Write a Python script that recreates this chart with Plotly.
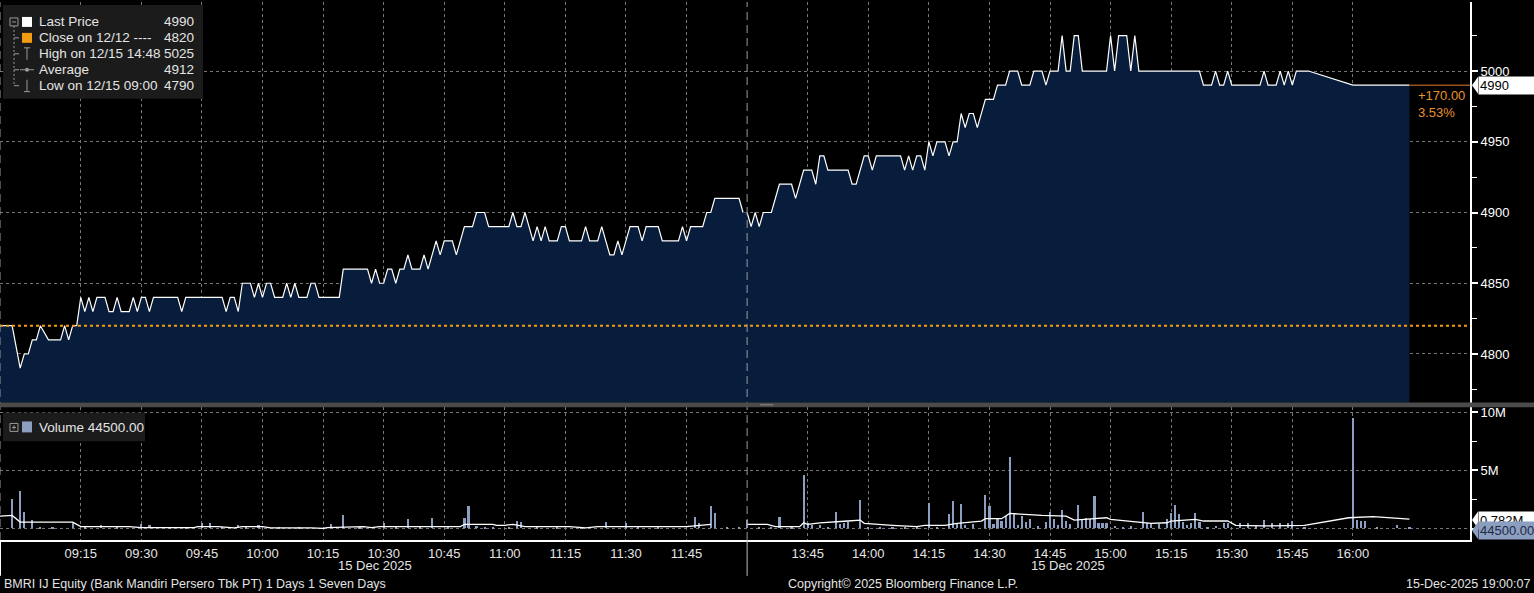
import plotly.graph_objects as go

DAY = "2025-12-15"

# ---------------- data ----------------
price_times_am = ["08:55", "08:58", "09:00", "09:01", "09:02", "09:03", "09:04", "09:05", "09:07", "09:10",
                  "09:11", "09:12", "09:13", "09:14", "09:15", "09:16", "09:17", "09:18", "09:19", "09:21",
                  "09:22", "09:23", "09:24", "09:25", "09:27", "09:28", "09:29", "09:30", "09:31", "09:32",
                  "09:33", "09:39", "09:40", "09:41", "09:50", "09:51", "09:52", "09:53", "09:54", "09:55",
                  "09:57", "09:58", "09:59", "10:00", "10:01", "10:02", "10:03", "10:05", "10:06", "10:07",
                  "10:08", "10:09", "10:11", "10:12", "10:13", "10:14", "10:19", "10:20", "10:26", "10:27",
                  "10:28", "10:29", "10:30", "10:31", "10:32", "10:33", "10:34", "10:35", "10:36", "10:37",
                  "10:39", "10:40", "10:41", "10:43", "10:44", "10:45", "10:47", "10:48", "10:50", "10:52",
                  "10:53", "10:55", "10:56", "11:01", "11:02", "11:03", "11:04", "11:05", "11:06", "11:07",
                  "11:08", "11:09", "11:10", "11:11", "11:13", "11:14", "11:15", "11:16", "11:19", "11:20",
                  "11:21", "11:23", "11:24", "11:26", "11:27", "11:28", "11:29", "11:31", "11:33", "11:34",
                  "11:35", "11:38", "11:39", "11:43", "11:44", "11:45", "11:46", "11:49", "11:50", "11:51",
                  "11:52", "11:58", "11:59", "12:00"]
price_values_am = [4820, 4820, 4790, 4800, 4800, 4810, 4810, 4820, 4810, 4810,
                   4820, 4810, 4820, 4820, 4840, 4830, 4840, 4830, 4840, 4840,
                   4830, 4830, 4840, 4830, 4830, 4840, 4830, 4840, 4840, 4830,
                   4840, 4840, 4830, 4840, 4840, 4830, 4840, 4840, 4830, 4850,
                   4850, 4840, 4850, 4840, 4850, 4850, 4840, 4840, 4850, 4840,
                   4850, 4840, 4840, 4850, 4850, 4840, 4840, 4860, 4860, 4850,
                   4860, 4850, 4850, 4860, 4860, 4850, 4860, 4860, 4870, 4860,
                   4860, 4870, 4860, 4880, 4870, 4880, 4880, 4870, 4890, 4890,
                   4900, 4900, 4890, 4890, 4900, 4890, 4890, 4900, 4890, 4880,
                   4890, 4880, 4890, 4880, 4880, 4890, 4890, 4880, 4880, 4890,
                   4880, 4880, 4890, 4870, 4870, 4880, 4870, 4890, 4890, 4880,
                   4890, 4890, 4880, 4880, 4890, 4880, 4890, 4890, 4900, 4900,
                   4910, 4910, 4900, 4900]

price_times_pm = ["13:30", "13:31", "13:32", "13:33", "13:34", "13:36", "13:38", "13:41", "13:42", "13:44",
                  "13:46", "13:47", "13:48", "13:49", "13:50", "13:55", "13:56", "13:57", "13:59", "14:00",
                  "14:01", "14:02", "14:08", "14:09", "14:10", "14:11", "14:12", "14:13", "14:14", "14:15",
                  "14:16", "14:17", "14:19", "14:20", "14:21", "14:22", "14:23", "14:24", "14:25", "14:26",
                  "14:27", "14:29", "14:31", "14:32", "14:34", "14:35", "14:37", "14:38", "14:40", "14:41",
                  "14:43", "14:44", "14:45", "14:47", "14:48", "14:49", "14:50", "14:51", "14:52", "14:53",
                  "14:59", "15:00", "15:01", "15:02", "15:04", "15:05", "15:06", "15:07", "15:22", "15:23",
                  "15:25", "15:26", "15:27", "15:28", "15:29", "15:30", "15:37", "15:38", "15:39", "15:41",
                  "15:42", "15:43", "15:44", "15:45", "15:46", "15:49", "16:00", "16:14"]
price_values_pm = [4900, 4890, 4900, 4890, 4900, 4900, 4920, 4920, 4910, 4930,
                   4930, 4920, 4940, 4940, 4930, 4930, 4920, 4920, 4940, 4940,
                   4930, 4940, 4940, 4930, 4940, 4930, 4940, 4940, 4930, 4950,
                   4940, 4950, 4950, 4940, 4950, 4950, 4970, 4960, 4970, 4970,
                   4960, 4980, 4980, 4990, 4990, 5000, 5000, 4990, 4990, 5000,
                   5000, 4990, 5000, 5000, 5025, 5000, 5000, 5025, 5025, 5000,
                   5000, 5025, 5000, 5025, 5025, 5000, 5025, 5000, 5000, 4990,
                   4990, 5000, 4990, 4990, 5000, 4990, 4990, 5000, 4990, 4990,
                   5000, 4990, 5000, 4990, 5000, 5000, 4990, 4990]

close_prev = 4820
average_price = 4912

vol_times = ["08:58", "09:00", "09:01", "09:03", "09:05", "09:08", "09:13", "09:16", "09:20", "09:24",
             "09:30", "09:32", "09:37", "09:41", "09:45", "09:47", "09:50", "09:54", "09:56", "09:59",
             "10:04", "10:09", "10:17", "10:20", "10:24", "10:30", "10:33", "10:36", "10:39", "10:42",
             "10:46", "10:50", "10:51", "10:53", "10:55", "10:57", "11:01", "11:03", "11:04", "11:08",
             "11:13", "11:19", "11:25", "11:30", "11:33", "11:38", "11:47", "11:48", "11:51", "11:52",
             "11:55", "11:58", "12:00",
             "13:30", "13:33", "13:36", "13:38", "13:41", "13:44", "13:45", "13:46", "13:48", "13:50",
             "13:52", "13:53", "13:54", "13:55", "13:58", "14:00", "14:03", "14:06", "14:09", "14:12",
             "14:15", "14:17", "14:20", "14:21", "14:22", "14:23", "14:24", "14:26", "14:29", "14:30",
             "14:31", "14:32", "14:33", "14:34", "14:35", "14:36", "14:37", "14:38", "14:39", "14:40",
             "14:42", "14:44", "14:45", "14:46", "14:47", "14:48", "14:49", "14:50", "14:52", "14:53",
             "14:54", "14:55", "14:56", "14:57", "14:58", "14:59", "15:01", "15:03", "15:05", "15:08",
             "15:09", "15:10", "15:12", "15:14", "15:15", "15:16", "15:17", "15:18", "15:19", "15:20",
             "15:21", "15:22", "15:24", "15:26", "15:28", "15:29", "15:32", "15:34", "15:36", "15:38",
             "15:40", "15:42", "15:44", "15:45", "15:48", "16:00", "16:01", "16:02", "16:03", "16:06",
             "16:11", "16:14"]
vol_millions = [2.54, 3.25, 1.41, 0.70, 0.15, 0.12, 0.50, 0.10, 0.28, 0.08,
                0.37, 0.28, 0.10, 0.08, 0.45, 0.45, 0.10, 0.28, 0.12, 0.28,
                0.08, 0.10, 0.37, 1.13, 0.10, 0.50, 0.12, 0.80, 0.10, 0.88,
                0.12, 0.93, 1.90, 0.20, 0.15, 0.12, 0.15, 0.62, 0.56, 0.10,
                0.08, 0.10, 0.54, 0.45, 0.12, 0.10, 0.96, 0.45, 1.90, 1.30,
                0.15, 0.12, 0.70,
                0.70, 0.15, 0.12, 1.02, 0.10, 4.60, 0.50, 0.28, 0.28, 0.15,
                1.41, 0.37, 0.50, 0.56, 2.40, 0.15, 0.10, 0.12, 0.10, 0.15,
                2.20, 0.15, 1.20, 2.34, 0.50, 2.06, 0.28, 0.37, 2.90, 1.92,
                0.37, 0.80, 0.65, 1.07, 6.10, 1.20, 0.30, 1.07, 0.56, 0.85,
                0.17, 0.56, 1.41, 0.80, 0.25, 1.55, 0.65, 0.37, 1.98, 0.80,
                0.93, 0.80, 2.82, 0.50, 0.45, 0.45, 0.20, 0.15, 0.17, 1.41,
                0.50, 0.45, 0.37, 0.80, 1.30, 1.98, 1.20, 0.56, 0.30, 0.45,
                1.30, 0.56, 0.15, 0.20, 0.50, 0.45, 0.50, 0.50, 0.17, 0.70,
                0.45, 0.45, 0.45, 0.65, 0.10, 9.50, 0.70, 0.65, 0.65, 0.05,
                0.28, 0.0445]

avg_times = ["08:55", "08:58", "09:00", "09:13", "09:15", "09:27", "09:30", "09:43", "09:44", "09:49",
             "09:53", "09:55", "10:00", "10:02", "10:12", "10:15", "10:16", "10:25", "10:27", "10:29",
             "10:41", "10:49", "10:50", "10:57", "10:58", "11:00", "11:02", "11:05", "11:16", "11:20",
             "11:23", "11:45", "11:51", "12:00",
             "13:30", "13:35", "13:37", "13:43", "13:44", "13:45", "13:48", "13:52", "13:55", "13:58",
             "13:59", "14:06", "14:12", "14:14", "14:19", "14:22", "14:28", "14:29", "14:33", "14:35",
             "14:43", "14:49", "14:51", "14:56", "14:59", "15:00", "15:06", "15:10", "15:14", "15:15",
             "15:21", "15:23", "15:29", "15:31", "15:38", "15:48", "15:59", "16:05", "16:14"]
avg_millions = [1.07, 1.13, 0.56, 0.56, 0.17, 0.17, 0.08, 0.08, 0.17, 0.17,
                0.06, 0.17, 0.17, 0.06, 0.06, 0.02, 0.08, 0.17, 0.08, 0.17,
                0.17, 0.17, 0.37, 0.37, 0.28, 0.28, 0.37, 0.17, 0.17, 0.06,
                0.17, 0.17, 0.37, 0.37,
                0.37, 0.37, 0.17, 0.17, 0.50, 0.37, 0.50, 0.56, 0.65, 0.73,
                0.45, 0.28, 0.17, 0.28, 0.28, 0.45, 0.65, 0.85, 0.85, 1.30,
                1.13, 1.07, 0.73, 0.85, 0.93, 0.80, 0.56, 0.45, 0.50, 0.65,
                0.80, 0.65, 0.65, 0.28, 0.23, 0.28, 0.93, 1.02, 0.82]
avg_label = "0.782M"

x_tick_times = ["09:15", "09:30", "09:45", "10:00", "10:15", "10:30", "10:45", "11:00", "11:15", "11:30",
                "11:45", "13:45", "14:00", "14:15", "14:30", "14:45", "15:00", "15:15", "15:30", "15:45",
                "16:00"]
price_ticks = [4800, 4850, 4900, 4950, 5000]
vol_ticks = [0, 5e6, 10e6]
vol_tick_text = ["", "5M", "10M"]

axis_start, axis_end = "08:55", "16:29"
lunch_start, lunch_end = "12:00", "13:30"
date_label = "15 Dec 2025"
footer_left = "BMRI IJ Equity (Bank Mandiri Persero Tbk PT) 1 Days 1 Seven Days"
footer_mid = "Copyright\u00a9 2025 Bloomberg Finance L.P."
footer_right = "15-Dec-2025 19:00:07"

# ---------------- derived ----------------
def ts(t):
    return f"{DAY} {t}"

price_times = [ts(t) for t in price_times_am + price_times_pm]
price_values = price_values_am + price_values_pm
last_price = price_values[-1]
hi = max(price_values)
lo = min(price_values)
hi_time = price_times[price_values.index(hi)][-5:]
lo_time = price_times[price_values.index(lo)][-5:]
change = last_price - close_prev
change_pct = change / close_prev * 100
last_vol = vol_millions[-1] * 1e6

FONT = "Liberation Sans, Arial, sans-serif"
TXT = "#e4e4e4"
ORANGE = "#f39c12"
NAVY = "#071d3b"
VOLC = "#8c9fc0"
GRID = "#767676"

W, H = 1534, 593
PW, PH = 1470, 540  # plot area in px


def px(x):
    return x / PW


def py(y):
    return 1 - y / PH


fig = go.Figure()

fig.add_trace(go.Scatter(x=price_times, y=price_values, mode="lines",
                         line=dict(color="white", width=1.2),
                         fill="tozeroy", fillcolor=NAVY,
                         xaxis="x", yaxis="y", hoverinfo="skip"))
fig.add_trace(go.Scatter(x=[price_times[-1], ts(axis_end)], y=[last_price, last_price],
                         mode="lines", line=dict(color="#e07b2a", width=1),
                         xaxis="x", yaxis="y", hoverinfo="skip"))
fig.add_trace(go.Bar(x=[ts(t) for t in vol_times], y=[v * 1e6 for v in vol_millions],
                     marker=dict(color=VOLC, line=dict(width=0)), width=32000,
                     xaxis="x", yaxis="y2", hoverinfo="skip"))
fig.add_trace(go.Scatter(x=[ts(t) for t in avg_times], y=[v * 1e6 for v in avg_millions],
                         mode="lines", line=dict(color="white", width=1.3),
                         xaxis="x", yaxis="y2", hoverinfo="skip"))

shapes = []
annotations = []

# previous close dotted line
shapes.append(dict(type="line", xref="paper", x0=0, x1=1, yref="y", y0=close_prev, y1=close_prev,
                   line=dict(color=ORANGE, width=2, dash="3px,3px")))

# session separators (dashed vertical)
for t in [axis_start, lunch_start]:
    shapes.append(dict(type="line", xref="x", x0=ts(t), x1=ts(t), yref="paper", y0=0, y1=1,
                       line=dict(color="#9a9a9a", width=1, dash="8px,5px")))
shapes.append(dict(type="line", xref="x", x0=ts(axis_start), x1=ts(axis_start), yref="paper",
                   y0=py(540), y1=py(576), line=dict(color="white", width=2)))
shapes.append(dict(type="line", xref="x", x0=ts(lunch_start), x1=ts(lunch_start), yref="paper",
                   y0=py(540), y1=py(576), line=dict(color="#bdbdbd", width=1)))

# panel separator band
shapes.append(dict(type="rect", xref="paper", x0=0, x1=W / PW, yref="paper", y0=py(406.7), y1=py(402),
                   fillcolor="#4b4b4b", line=dict(width=0)))
shapes.append(dict(type="line", xref="paper", x0=px(760), x1=px(773), yref="paper", y0=py(404.3), y1=py(404.3),
                   line=dict(color="#8a8a8a", width=1)))

# legend boxes
shapes.append(dict(type="rect", xref="paper", yref="paper", x0=px(3), x1=px(203), y0=py(97), y1=py(3),
                   fillcolor="#1b1b1b", line=dict(width=0)))
shapes.append(dict(type="rect", xref="paper", yref="paper", x0=px(3), x1=px(145), y0=py(441), y1=py(412),
                   fillcolor="#1b1b1b", line=dict(width=0)))

ICON = "#9a9a9a"


def pline(x0, y0, x1, y1, color=ICON, width=1, dash=None):
    d = dict(color=color, width=width)
    if dash:
        d["dash"] = dash
    shapes.append(dict(type="line", xref="paper", yref="paper", x0=px(x0), x1=px(x1),
                       y0=py(y0), y1=py(y1), line=d))


def prect(x0, y0, x1, y1, fill, line_color=None):
    shapes.append(dict(type="rect", xref="paper", yref="paper", x0=px(x0), x1=px(x1),
                       y0=py(y1), y1=py(y0), fillcolor=fill,
                       line=dict(width=1 if line_color else 0, color=line_color or fill)))


# tree icons
prect(10, 16, 18, 24, "rgba(0,0,0,0)", ICON)
pline(12, 20, 16, 20)
pline(14, 24, 14, 84, dash="2px,2px")
for ry in [36, 52, 68, 84]:
    pline(14, ry, 19, ry)
prect(22, 15, 32, 25, "white")
prect(22, 31, 32, 41, ORANGE)
pline(24, 46, 30, 46)
pline(27, 46, 27, 58)
pline(20, 68, 34, 68)
shapes.append(dict(type="circle", xref="paper", yref="paper", x0=px(25), x1=px(29), y0=py(70), y1=py(66),
                   fillcolor=ICON, line=dict(width=0)))
pline(27, 78, 27, 90)
pline(24, 90, 30, 90)
# volume legend icons
prect(10, 423, 18, 431, "rgba(0,0,0,0)", ICON)
pline(12, 427, 16, 427)
pline(14, 425, 14, 429)
prect(22, 421, 32, 432, VOLC)

# label pointers
def pointer(yref, yval, color, yshift=0):
    shapes.append(dict(type="path", xref="paper", yref=yref, xsizemode="pixel", ysizemode="pixel",
                       xanchor=1, yanchor=yval,
                       path=f"M 2,{yshift} L 8,{yshift + 8.5} L 8,{yshift - 8.5} Z",
                       fillcolor=color, line=dict(width=0), layer="above"))


pointer("y", last_price, "white")
pointer("y2", avg_millions[-1] * 1e6, "white", yshift=-1)
pointer("y2", last_vol, VOLC, yshift=-2.5)

# legend text
legend_rows = [
    ("Last Price", f"{last_price}"),
    ("Close on 12/12 ----", f"{close_prev}"),
    (f"High on 12/15 {hi_time}", f"{hi}"),
    ("Average", f"{average_price}"),
    (f"Low on 12/15 {lo_time}", f"{lo}"),
]
for i, (lab, val) in enumerate(legend_rows):
    yy = py(20 + 16 * i)
    annotations.append(dict(xref="paper", yref="paper", x=px(37), y=yy, xanchor="left", yanchor="middle",
                            text=lab, showarrow=False, font=dict(family=FONT, size=13.5, color=TXT)))
    annotations.append(dict(xref="paper", yref="paper", x=px(196), y=yy, xanchor="right", yanchor="middle",
                            text=val, showarrow=False, font=dict(family=FONT, size=13.5, color=TXT)))
annotations.append(dict(xref="paper", yref="paper", x=px(37), y=py(427), xanchor="left", yanchor="middle",
                        text=f"Volume {last_vol:.2f}", showarrow=False,
                        font=dict(family=FONT, size=13.5, color=TXT)))

# change text
annotations.append(dict(xref="x", yref="y", x=price_times[-1], y=last_price, xanchor="left", yanchor="top",
                        xshift=7, yshift=-1, align="left", showarrow=False,
                        text=f"{change:+.2f}<br>{change_pct:.2f}%",
                        font=dict(family=FONT, size=13, color="#e8922e")))

# right side value labels
annotations.append(dict(xref="paper", yref="y", x=1, y=last_price, xanchor="left", yanchor="middle",
                        xshift=8, text=f"{last_price}", showarrow=False, bgcolor="white",
                        width=56, height=15, borderpad=1, align="left",
                        font=dict(family=FONT, size=13, color="black")))
annotations.append(dict(xref="paper", yref="y2", x=1, y=avg_millions[-1] * 1e6, xanchor="left",
                        yanchor="middle", xshift=8, yshift=-1, text=avg_label, showarrow=False,
                        bgcolor="white", width=56, height=15, borderpad=1, align="left",
                        font=dict(family=FONT, size=13, color="black")))
annotations.append(dict(xref="paper", yref="y2", x=1, y=last_vol, xanchor="left", yanchor="middle",
                        xshift=8, yshift=-2.5, text=f"{last_vol:.2f}", showarrow=False, bgcolor=VOLC,
                        width=56, height=15, borderpad=1, align="left",
                        font=dict(family=FONT, size=13, color="#1d2a45")))

# date labels under axis
for xp in [375, 1068]:
    annotations.append(dict(xref="paper", yref="paper", x=px(xp), y=py(566), xanchor="center",
                            yanchor="middle", text=date_label, showarrow=False,
                            font=dict(family=FONT, size=13, color=TXT)))

# footer
annotations.append(dict(xref="paper", yref="paper", x=px(2), y=py(584), xanchor="left", yanchor="middle",
                        text=footer_left, showarrow=False, font=dict(family=FONT, size=12.5, color=TXT)))
annotations.append(dict(xref="paper", yref="paper", x=px(903), y=py(584), xanchor="center", yanchor="middle",
                        text=footer_mid, showarrow=False, font=dict(family=FONT, size=12.5, color=TXT)))
annotations.append(dict(xref="paper", yref="paper", x=px(1532), y=py(584), xanchor="right", yanchor="middle",
                        text=footer_right, showarrow=False, font=dict(family=FONT, size=12.5, color=TXT)))

fig.update_layout(
    width=W, height=H, autosize=False,
    margin=dict(l=0, r=W - PW, t=0, b=H - PH, pad=0),
    paper_bgcolor="black", plot_bgcolor="black",
    showlegend=False, bargap=0,
    font=dict(family=FONT, size=13, color=TXT),
    xaxis=dict(type="date", domain=[0, 1], anchor="y2",
               range=[ts(axis_start), ts(axis_end)],
               rangebreaks=[dict(bounds=[ts(lunch_start), ts(lunch_end)])],
               tickvals=[ts(t) for t in x_tick_times], tickformat="%H:%M",
               ticks="", showgrid=True, gridcolor=GRID, griddash="3px,3px", gridwidth=1,
               showline=True, linecolor="white", linewidth=2, zeroline=False,
               tickfont=dict(family=FONT, size=13, color=TXT)),
    yaxis=dict(domain=[py(402), 1], anchor="x", side="right",
               range=[4765.7, 5048.8], tickvals=price_ticks,
               ticks="outside", ticklen=6, tickwidth=2, tickcolor="white",
               minor=dict(ticks="outside", ticklen=5, tickwidth=1, tickcolor="white", dtick=25,
                          tick0=4800, showgrid=False),
               showgrid=True, gridcolor=GRID, griddash="3px,3px", gridwidth=1,
               showline=True, linecolor="white", linewidth=2, zeroline=False,
               tickfont=dict(family=FONT, size=13, color="white")),
    yaxis2=dict(domain=[0, py(406.7)], anchor="x", side="right",
                range=[-0.98e6, 10.43e6], tickvals=vol_ticks, ticktext=vol_tick_text,
                ticks="outside", ticklen=6, tickwidth=2, tickcolor="white",
                minor=dict(ticks="outside", ticklen=5, tickwidth=1, tickcolor="white", dtick=2.5e6,
                           tick0=0, showgrid=False),
                showgrid=True, gridcolor=GRID, griddash="3px,3px", gridwidth=1,
                showline=True, linecolor="white", linewidth=2, zeroline=False,
                tickfont=dict(family=FONT, size=13, color="white")),
    shapes=shapes,
    annotations=annotations,
)

fig.write_html("out.html", config={"displayModeBar": False},
               post_script="document.body.style.margin='0';document.body.style.background='black';")
